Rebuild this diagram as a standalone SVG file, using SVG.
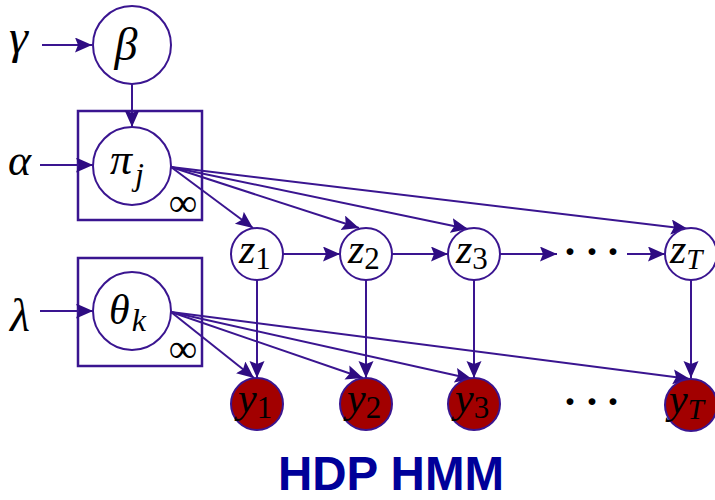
<svg xmlns="http://www.w3.org/2000/svg" width="715" height="500" viewBox="0 0 715 500">
<style>
.node{fill:#ffffff;stroke:#3a1590;stroke-width:2}
.obs{fill:#a20000;stroke:#3a1590;stroke-width:2}
.plate{fill:none;stroke:#3a1590;stroke-width:2.5}
.edge{stroke:#3a1590;stroke-width:2;fill:none;marker-end:url(#ah)}
.m{font-family:"Liberation Serif","DejaVu Serif",serif;font-style:italic;fill:#000}
.r{font-family:"Liberation Serif","DejaVu Serif",serif;font-style:normal;fill:#000}
.title{font-family:"Liberation Sans",Arial,sans-serif;font-weight:bold;fill:#000099}
</style>
<defs>
<marker id="ah" markerUnits="userSpaceOnUse" markerWidth="18" markerHeight="16" refX="17" refY="7.5" orient="auto">
<path d="M0,0 L17,7.5 L0,15 L3,7.5 z" fill="#2e0c82"/>
</marker>
</defs>
<rect width="715" height="500" fill="#ffffff"/>

<g id="plate-pi"><rect class="plate" x="78" y="111" width="124" height="109"/><text class="r" x="183" y="216" font-size="40" text-anchor="middle">∞</text></g>
<g id="plate-theta"><rect class="plate" x="78" y="258" width="124" height="108"/><text class="r" x="183" y="362" font-size="40" text-anchor="middle">∞</text></g>

<g id="connectors">
<line class="edge" x1="42" y1="45" x2="92" y2="45"/>
<line class="edge" x1="132" y1="84" x2="132" y2="127"/>
<line class="edge" x1="40" y1="165" x2="93" y2="165"/>
<line class="edge" x1="40" y1="311" x2="93" y2="311"/>
<line class="edge" x1="171" y1="167" x2="253" y2="228"/>
<line class="edge" x1="171" y1="167" x2="359" y2="228"/>
<line class="edge" x1="171" y1="167" x2="468" y2="229"/>
<line class="edge" x1="171" y1="167" x2="688" y2="229"/>
<line class="edge" x1="171" y1="312" x2="254" y2="378"/>
<line class="edge" x1="171" y1="312" x2="363" y2="378"/>
<line class="edge" x1="171" y1="312" x2="472" y2="379"/>
<line class="edge" x1="171" y1="312" x2="690" y2="379"/>
<line class="edge" x1="283" y1="254" x2="340" y2="254"/>
<line class="edge" x1="392" y1="254" x2="448" y2="254"/>
<line class="edge" x1="500" y1="254" x2="557" y2="254"/>
<line class="edge" x1="627" y1="254" x2="665" y2="254"/>
<line class="edge" x1="257" y1="280" x2="257" y2="378"/>
<line class="edge" x1="366" y1="280" x2="366" y2="378"/>
<line class="edge" x1="474" y1="280" x2="474" y2="378"/>
<line class="edge" x1="691" y1="280" x2="691" y2="378"/>
</g>

<g id="gamma"><text class="m" x="9" y="53" font-size="48">γ</text></g>
<g id="alpha"><text class="m" x="8" y="175" font-size="44">α</text></g>
<g id="lambda"><text class="m" x="10" y="331" font-size="46">λ</text></g>

<g id="beta"><circle class="node" cx="132" cy="45" r="39"/><text class="m" x="126" y="60" font-size="46" text-anchor="middle">β</text></g>
<g id="pi"><circle class="node" cx="132" cy="166" r="39"/><text class="m" x="110" y="174" font-size="44">π<tspan font-size="32" dx="3" dy="11">j</tspan></text></g>
<g id="theta"><circle class="node" cx="132" cy="311" r="39"/><text class="m" x="109" y="324" font-size="42">θ<tspan font-size="32" dx="2" dy="7">k</tspan></text></g>

<g id="z1"><circle class="node" cx="257" cy="254" r="26"/><text class="m" x="239" y="263" font-size="42">z<tspan class="r" font-size="31" dy="6">1</tspan></text></g>
<g id="z2"><circle class="node" cx="366" cy="254" r="26"/><text class="m" x="348" y="263" font-size="42">z<tspan class="r" font-size="31" dy="6">2</tspan></text></g>
<g id="z3"><circle class="node" cx="474" cy="254" r="26"/><text class="m" x="456" y="263" font-size="42">z<tspan class="r" font-size="31" dy="6">3</tspan></text></g>
<g id="zT"><circle class="node" cx="691" cy="254" r="26"/><text class="m" x="670" y="263" font-size="42">z<tspan font-size="29" dy="6">T</tspan></text></g>
<g id="dots-z"><text class="r" x="570 592 613" y="266" font-size="42" font-weight="bold" text-anchor="middle">···</text></g>

<g id="y1"><circle class="obs" cx="257" cy="404" r="26"/><text class="m" x="238" y="412" font-size="42">y<tspan class="r" font-size="31" dy="6">1</tspan></text></g>
<g id="y2"><circle class="obs" cx="366" cy="404" r="26"/><text class="m" x="347" y="412" font-size="42">y<tspan class="r" font-size="31" dy="6">2</tspan></text></g>
<g id="y3"><circle class="obs" cx="474" cy="404" r="26"/><text class="m" x="455" y="412" font-size="42">y<tspan class="r" font-size="31" dy="6">3</tspan></text></g>
<g id="yT"><circle class="obs" cx="691" cy="405" r="26"/><text class="m" x="669" y="413" font-size="42">y<tspan font-size="29" dy="6">T</tspan></text></g>
<g id="dots-y"><text class="r" x="570 592 613" y="416" font-size="42" font-weight="bold" text-anchor="middle">···</text></g>

<g id="title"><text class="title" x="278" y="490" font-size="48" textLength="226" lengthAdjust="spacingAndGlyphs">HDP HMM</text></g>
</svg>
